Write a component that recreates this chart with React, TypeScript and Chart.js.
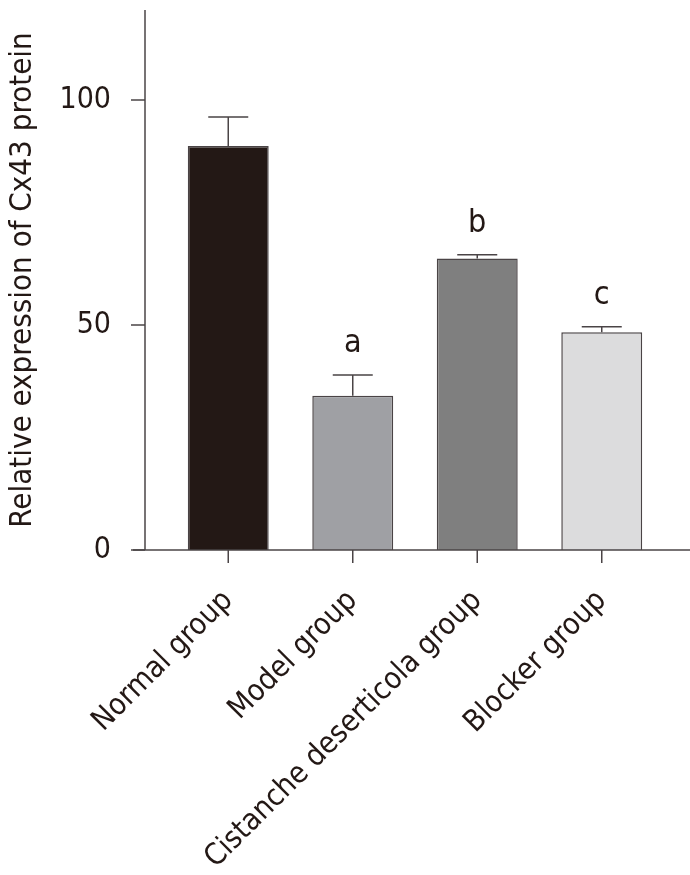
import React, { useEffect, useRef } from "react";
import { Chart, registerables } from "chart.js";

Chart.register(...registerables);

const categories = ["Normal group", "Model group", "Cistanche deserticola group", "Blocker group"];
const means = [89.8, 34.3, 64.8, 48.4];
const upperErrors = [6.4, 4.6, 0.8, 1.2];
const sigLetters = ["", "a", "b", "c"];
const barColors = ["#231815", "#9fa0a4", "#7f7f7f", "#dcdcdd"];
const yTicks = [0, 50, 100];
const yMax = 120;
const yTitle = "Relative expression of Cx43 protein";

const FONT_FAMILY = '"DejaVu Sans Condensed", "DejaVu Sans", sans-serif';
const TEXT_COLOR = "#231815";
const LINE_COLOR = "#4a4446";

const decorPlugin = {
  id: "decor",
  afterDatasetsDraw(chart: any) {
    const ctx = chart.ctx;
    const area = chart.chartArea;
    const xs = chart.scales.x;
    const ys = chart.scales.y;
    const axisX = area.left - 21;
    const y0 = ys.getPixelForValue(0);
    const yTop = ys.getPixelForValue(yMax);
    ctx.save();
    ctx.strokeStyle = LINE_COLOR;
    ctx.lineWidth = 1.5;
    // y axis
    ctx.beginPath();
    ctx.moveTo(axisX, yTop);
    ctx.lineTo(axisX, y0);
    ctx.stroke();
    // y ticks
    yTicks.forEach((v) => {
      const py = ys.getPixelForValue(v);
      ctx.beginPath();
      ctx.moveTo(axisX - 14, py);
      ctx.lineTo(axisX, py);
      ctx.stroke();
    });
    // x axis
    ctx.beginPath();
    ctx.moveTo(axisX - 12, y0);
    ctx.lineTo(chart.width, y0);
    ctx.stroke();
    // x ticks + error bars + letters
    categories.forEach((_, i) => {
      const px = xs.getPixelForValue(i);
      ctx.beginPath();
      ctx.moveTo(px, y0);
      ctx.lineTo(px, y0 + 13);
      ctx.stroke();
      const top = ys.getPixelForValue(means[i]);
      const errTop = ys.getPixelForValue(means[i] + upperErrors[i]);
      ctx.beginPath();
      ctx.moveTo(px, top);
      ctx.lineTo(px, errTop);
      ctx.moveTo(px - 20, errTop);
      ctx.lineTo(px + 20, errTop);
      ctx.stroke();
      if (sigLetters[i]) {
        ctx.fillStyle = TEXT_COLOR;
        ctx.font = `32px ${FONT_FAMILY}`;
        ctx.textAlign = "center";
        ctx.textBaseline = "alphabetic";
        ctx.fillText(sigLetters[i], px, errTop - 23);
      }
    });
    ctx.restore();
  },
};

export default function App() {
  const canvasRef = useRef<HTMLCanvasElement | null>(null);

  useEffect(() => {
    document.body.style.margin = "0";
    const canvas = canvasRef.current;
    if (!canvas) return;
    const chart = new Chart(canvas, {
      type: "bar",
      data: {
        labels: categories,
        datasets: [
          {
            data: means,
            backgroundColor: barColors,
            borderColor: LINE_COLOR,
            borderWidth: 1.5,
            barPercentage: 0.65,
            categoryPercentage: 1,
          },
        ],
      },
      options: {
        responsive: false,
        animation: false,
        layout: { padding: { top: 10, right: 26, left: 0, bottom: 0 } },
        plugins: {
          legend: { display: false },
          tooltip: { enabled: false },
        },
        scales: {
          x: {
            grid: { display: false },
            border: { display: false },
            ticks: {
              autoSkip: false,
              maxRotation: 45,
              minRotation: 45,
              padding: 20,
              color: TEXT_COLOR,
              font: { family: FONT_FAMILY, size: 30, lineHeight: 1.7 },
            },
            afterFit(scale: any) {
              scale.height = 325;
              scale.paddingLeft = 0;
              scale.paddingRight = 0;
            },
          },
          y: {
            min: 0,
            max: yMax,
            grid: { display: false },
            border: { display: false },
            afterBuildTicks(scale: any) {
              scale.ticks = yTicks.map((v) => ({ value: v }));
            },
            ticks: {
              padding: 47,
              color: TEXT_COLOR,
              font: { family: FONT_FAMILY, size: 30 },
            },
            title: {
              display: true,
              text: yTitle,
              color: TEXT_COLOR,
              font: { family: FONT_FAMILY, size: 31 },
              padding: { top: 4, bottom: 0 },
            },
            afterFit(scale: any) {
              scale.width = 166;
              scale.paddingTop = 0;
              scale.paddingBottom = 0;
            },
          },
        },
      },
      plugins: [decorPlugin],
    });
    return () => chart.destroy();
  }, []);

  return (
    <div style={{ position: "absolute", left: 0, top: 0, width: 690, height: 875, background: "#fff" }}>
      <canvas ref={canvasRef} width={690} height={875} style={{ display: "block" }} />
    </div>
  );
}
